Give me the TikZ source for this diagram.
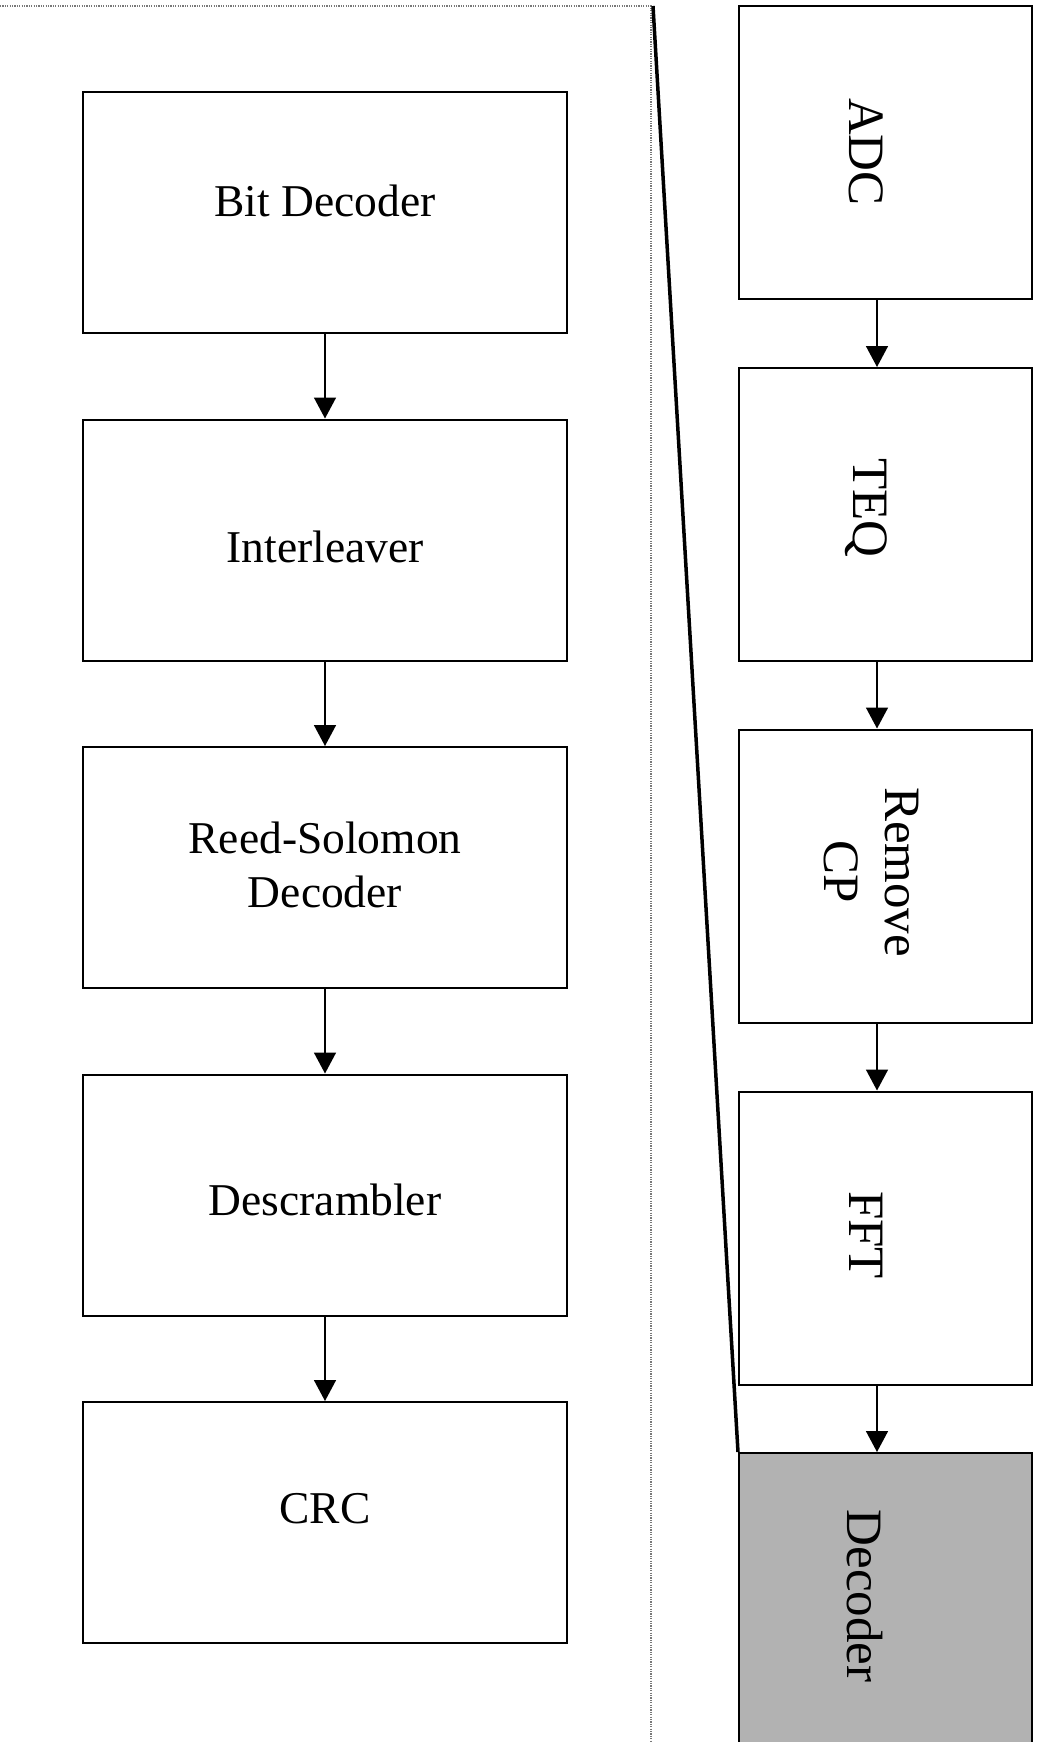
\documentclass[tikz,border=0pt]{standalone}
\usepackage{fontspec}
\setmainfont{Liberation Serif}
\usetikzlibrary{arrows.meta}
\definecolor{decfill}{RGB}{178,178,178}
\definecolor{dotgray}{RGB}{120,120,120}
\begin{document}
\begin{tikzpicture}[x=1pt,y=-1pt,
  box/.style={draw, line width=2pt, minimum width=484pt, minimum height=241pt, inner sep=0pt},
  rbox/.style={draw, line width=2pt, minimum width=293pt, minimum height=293pt, inner sep=0pt},
  lbl/.style={font=\fontsize{45.5}{54.6}\selectfont, align=center, inner sep=0pt},
  rlbl/.style={font=\fontsize{51}{61}\selectfont, align=center, inner sep=0pt, rotate=-90},
  arr/.style={line width=1.6pt, -{Triangle[width=22pt,length=21pt]}},
  border/.style={dotgray, line width=1.2pt, dash pattern=on 1.2pt off 1.2pt},
  sep/.style={line width=3.5pt}]
\useasboundingbox (0,0) rectangle (1037,1742);
\clip (0,0) rectangle (1037,1742);
% dotted frame
\draw[border] (0,6) -- (651,6) -- (651,1760);
% left column
\node[box] (bit) at (325,212.5) {};
\node[box] (int) at (325,540) {};
\node[box] (rs)  at (325,867.5) {};
\node[box] (des) at (325,1195) {};
\node[box] (crc) at (325,1522.5) {};
\node[lbl] (tbit) at (325,201) {Bit Decoder};
\node[lbl] (tint) at (325,547) {Interleaver};
\node[lbl] (trs)  at (325,865) {Reed-Solomon\\Decoder};
\node[lbl] (tdes) at (325,1200) {Descrambler};
\node[lbl] (tcrc) at (325,1509) {CRC};
\draw[arr] (bit.south) -- (int.north);
\draw[arr] (int.south) -- (rs.north);
\draw[arr] (rs.south) -- (des.north);
\draw[arr] (des.south) -- (crc.north);
% right column
\node[rbox] (adc) at (885.5,152.5) {};
\node[rbox] (teq) at (885.5,514.5) {};
\node[rbox] (rcp) at (885.5,876) {};
\node[rbox] (fft) at (885.5,1238) {};
\node[rbox, fill=decfill, minimum height=307pt] (dec) at (885.5,1606.5) {};
\node[rlbl] (tadc) at (866,152) {ADC};
\node[rlbl] (tteq) at (866,508) {TEQ};
\node[rlbl] (trcp) at (871,872) {Remove\\CP};
\node[rlbl] (tfft) at (866,1235) {FFT};
\node[rlbl] (tdec) at (865,1596) {Decoder};
\draw[arr] ([xshift=-8.5pt]adc.south) -- ([xshift=-8.5pt]teq.north);
\draw[arr] ([xshift=-8.5pt]teq.south) -- ([xshift=-8.5pt]rcp.north);
\draw[arr] ([xshift=-8.5pt]rcp.south) -- ([xshift=-8.5pt]fft.north);
\draw[arr] ([xshift=-8.5pt]fft.south) -- ([xshift=-8.5pt]dec.north);
% separator line
\coordinate (septop) at (653,6);
\draw[sep] (septop) -- (dec.north west);
\end{tikzpicture}
\end{document}
